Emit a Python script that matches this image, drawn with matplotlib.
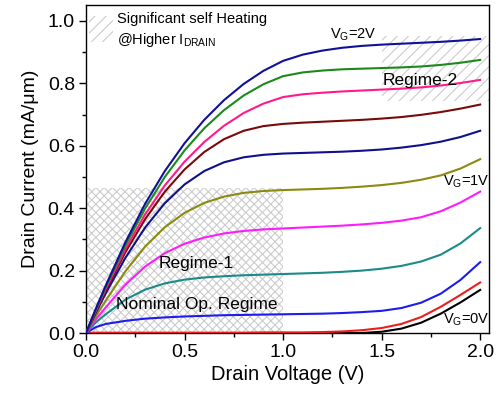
import matplotlib
matplotlib.use("Agg")
import matplotlib.pyplot as plt
from matplotlib.patches import Rectangle
from matplotlib.ticker import MultipleLocator

plt.rcParams['font.family'] = ['Liberation Sans', 'DejaVu Sans']
plt.rcParams['mathtext.fontset'] = 'custom'
plt.rcParams['mathtext.rm'] = 'Liberation Sans'
plt.rcParams['mathtext.it'] = 'Liberation Sans'
plt.rcParams['hatch.linewidth'] = 0.8

vd = [0.0, 0.05, 0.1, 0.2, 0.3, 0.4, 0.5, 0.6, 0.7, 0.8, 0.9, 1.0, 1.1, 1.2, 1.3,
      1.4, 1.5, 1.6, 1.7, 1.8, 1.9, 2.0]

id_vg00 = [0, 0, 0, 0, 0, 0, 0, 0, 0, 0, 0, 0, 0, 0, 0, 0, 0.004, 0.014, 0.033, 0.062, 0.098, 0.138]
id_vg02 = [0, 0.001, 0.001, 0.001, 0.001, 0.001, 0.001, 0.001, 0.001, 0.001, 0.002, 0.002, 0.002,
           0.003, 0.005, 0.009, 0.016, 0.029, 0.051, 0.084, 0.122, 0.162]
id_vg04 = [0, 0.019, 0.029, 0.039, 0.046, 0.050, 0.053, 0.055, 0.057, 0.058, 0.059, 0.060, 0.061,
           0.062, 0.064, 0.067, 0.071, 0.080, 0.097, 0.126, 0.170, 0.227]
id_vg06 = [0, 0.034, 0.060, 0.107, 0.139, 0.159, 0.171, 0.178, 0.182, 0.185, 0.187, 0.189, 0.191,
           0.193, 0.196, 0.200, 0.206, 0.215, 0.229, 0.251, 0.287, 0.336]
id_vg08 = [0, 0.044, 0.082, 0.155, 0.213, 0.256, 0.286, 0.306, 0.319, 0.327, 0.332, 0.335, 0.338,
           0.341, 0.344, 0.348, 0.353, 0.360, 0.371, 0.390, 0.418, 0.453]
id_vg10 = [0, 0.054, 0.104, 0.198, 0.277, 0.339, 0.385, 0.417, 0.437, 0.449, 0.455, 0.458, 0.460,
           0.462, 0.465, 0.469, 0.474, 0.481, 0.491, 0.505, 0.527, 0.557]
id_vg12 = [0, 0.065, 0.127, 0.241, 0.338, 0.416, 0.476, 0.519, 0.547, 0.563, 0.571, 0.575, 0.577,
           0.579, 0.581, 0.584, 0.588, 0.594, 0.602, 0.613, 0.628, 0.648]
id_vg14 = [0, 0.069, 0.136, 0.259, 0.365, 0.453, 0.524, 0.580, 0.621, 0.648, 0.663, 0.670, 0.674,
           0.677, 0.680, 0.683, 0.687, 0.692, 0.699, 0.708, 0.719, 0.732]
id_vg16 = [0, 0.072, 0.141, 0.269, 0.380, 0.473, 0.549, 0.612, 0.664, 0.705, 0.735, 0.756, 0.765,
           0.770, 0.774, 0.777, 0.780, 0.783, 0.787, 0.793, 0.801, 0.811]
id_vg18 = [0, 0.075, 0.147, 0.281, 0.399, 0.500, 0.585, 0.656, 0.714, 0.761, 0.797, 0.823, 0.835,
           0.841, 0.845, 0.847, 0.849, 0.851, 0.854, 0.859, 0.866, 0.875]
id_vg20 = [0, 0.078, 0.152, 0.291, 0.414, 0.519, 0.608, 0.683, 0.746, 0.798, 0.840, 0.872, 0.892,
           0.905, 0.914, 0.920, 0.924, 0.927, 0.930, 0.933, 0.937, 0.942]

series = [id_vg00, id_vg02, id_vg04, id_vg06, id_vg08, id_vg10,
          id_vg12, id_vg14, id_vg16, id_vg18, id_vg20]
colors = ['#000000', '#ee1c1c', '#1c1cee', '#1a8a8a', '#ff1aff', '#8a8a10',
          '#10108a', '#7a0a0a', '#ff1a8c', '#1a8a1a', '#10109a']

xticks = [0.0, 0.5, 1.0, 1.5, 2.0]
yticks = [0.0, 0.2, 0.4, 0.6, 0.8, 1.0]

fig = plt.figure(figsize=(4.98, 3.94), dpi=100)
ax = fig.add_axes([0.1727, 0.1548, 0.8093, 0.8325])

hcol = '#cccccc'
# hatched regions
ax.add_patch(Rectangle((0.0, 0.0), 1.0, 0.465, facecolor='white', edgecolor=hcol, lw=0,
                       hatch='xxxx', zorder=1))
ax.add_patch(Rectangle((1.5, 0.745), 0.545, 0.207, facecolor='white', edgecolor=hcol, lw=0,
                       hatch='///', zorder=1))
ax.add_patch(Rectangle((0.015, 0.933), 0.122, 0.083, facecolor='white', edgecolor=hcol, lw=0,
                       hatch='///', zorder=1))

for ys, c in zip(series, colors):
    ax.plot(vd, ys, color=c, lw=1.5, zorder=3, solid_joinstyle='round')

ax.set_xlim(0, 2.045)
ax.set_ylim(0, 1.051)
ax.set_xticks(xticks)
ax.set_xticklabels(['%.1f' % t for t in xticks])
ax.set_yticks(yticks)
ax.set_yticklabels(['%.1f' % t for t in yticks])
ax.xaxis.set_minor_locator(MultipleLocator(0.25))
ax.yaxis.set_minor_locator(MultipleLocator(0.1))
ax.tick_params(which='major', direction='out', length=5, width=1, labelsize=14,
               top=False, right=False, pad=3)
ax.tick_params(which='minor', direction='out', length=3, width=1, top=False, right=False)
for s in ax.spines.values():
    s.set_linewidth(1.0)

ax.set_xlabel('Drain Voltage (V)', fontsize=14.5, labelpad=3)
ax.set_ylabel('Drain Current (mA/\u03bcm)', fontsize=14, labelpad=6)

ax.text(0.157, 1.005, 'Significant self Heating', fontsize=10.5, va='center', ha='left', zorder=4)
ax.text(0.157, 0.94, '@Higher I$_{\\rm DRAIN}$', fontsize=10.5, va='center', ha='left', zorder=4)
ax.text(1.24, 0.955, 'V$_{\\rm G}$=2V', fontsize=10.5, va='center', ha='left', zorder=4)
ax.text(1.695, 0.81, 'Regime-2', fontsize=12.5, va='center', ha='center', zorder=4)
ax.text(1.81, 0.484, 'V$_{\\rm G}$=1V', fontsize=10.5, va='center', ha='left', zorder=4)
ax.text(0.56, 0.224, 'Regime-1', fontsize=12.5, va='center', ha='center', zorder=4)
ax.text(0.56, 0.09, 'Nominal Op. Regime', fontsize=12.5, va='center', ha='center', zorder=4)
ax.text(1.81, 0.042, 'V$_{\\rm G}$=0V', fontsize=10.5, va='center', ha='left', zorder=4)

fig.savefig('out.png', dpi=100)
